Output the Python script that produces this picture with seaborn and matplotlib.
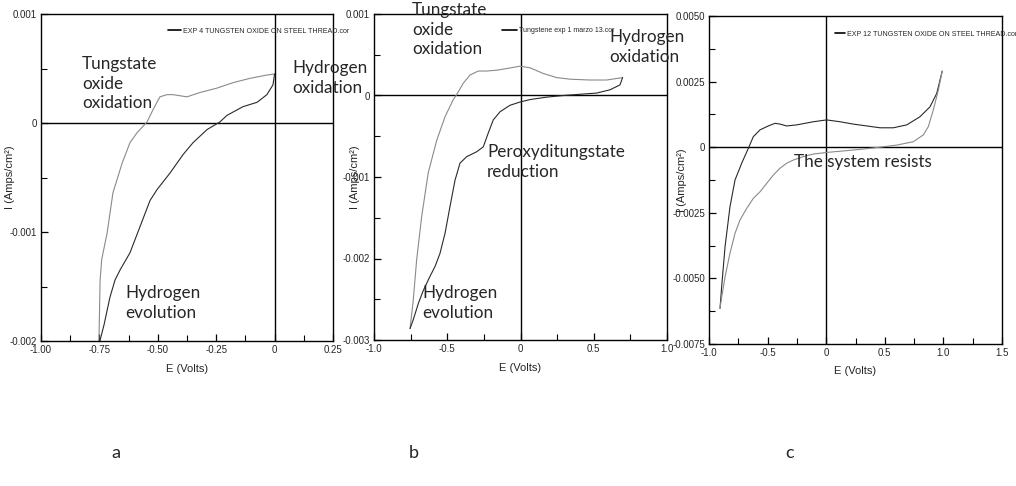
import matplotlib
matplotlib.use("Agg")
import matplotlib.pyplot as plt
from matplotlib.lines import Line2D
from matplotlib.ticker import FixedLocator
import seaborn as sns
import pandas as pd

# ---------------- data ----------------
# Panel a
A_up_E = [-0.752, -0.747, -0.740, -0.717, -0.692, -0.653, -0.619, -0.589, -0.546, -0.521, -0.491,
          -0.461, -0.435, -0.375, -0.319, -0.247, -0.178, -0.105, -0.033, 0.0]
A_up_I = [-0.00200, -0.00144, -0.00125, -0.00101, -0.00064, -0.00037, -0.00018, -0.00009, 0.00001,
          0.00012, 0.00024, 0.00026, 0.00026, 0.00024, 0.00028, 0.00032, 0.00037, 0.00041, 0.00044, 0.00045]
A_dn_E = [0.0, -0.007, -0.033, -0.075, -0.135, -0.204, -0.234, -0.289, -0.349, -0.392, -0.448,
          -0.503, -0.533, -0.576, -0.619, -0.662, -0.683, -0.705, -0.730, -0.748]
A_dn_I = [0.00045, 0.00035, 0.00026, 0.00019, 0.00015, 0.00007, 0.00001, -0.00006, -0.00018, -0.00029,
          -0.00046, -0.00061, -0.00071, -0.00095, -0.00119, -0.00135, -0.00144, -0.00160, -0.00185, -0.00200]

# Panel b
B_up_E = [-0.754, -0.732, -0.709, -0.675, -0.630, -0.572, -0.515, -0.459, -0.436, -0.391, -0.345,
          -0.289, -0.232, -0.164, -0.096, -0.003, 0.065, 0.156, 0.246, 0.338, 0.474, 0.588, 0.697]
B_up_I = [-0.00286, -0.00251, -0.00202, -0.00149, -0.00095, -0.00055, -0.00026, -0.00005, 0.00001,
          0.00015, 0.00025, 0.00030, 0.00030, 0.00031, 0.00033, 0.00036, 0.00034, 0.00027, 0.00022,
          0.00020, 0.00019, 0.00019, 0.00022]
B_dn_E = [0.697, 0.679, 0.611, 0.520, 0.406, 0.292, 0.179, 0.065, -0.003, -0.072, -0.140, -0.186,
          -0.220, -0.254, -0.299, -0.367, -0.413, -0.447, -0.481, -0.515, -0.550, -0.584, -0.618,
          -0.663, -0.697, -0.732, -0.754]
B_dn_I = [0.00022, 0.00013, 0.00007, 0.00003, 0.000015, 0.0, -0.00002, -0.00005, -0.00008, -0.00012,
          -0.00020, -0.00030, -0.00046, -0.00063, -0.00069, -0.00075, -0.00083, -0.00104, -0.00136,
          -0.00169, -0.00194, -0.00210, -0.00222, -0.00239, -0.00255, -0.00275, -0.00286]

# Panel c
C_up_E = [-0.906, -0.892, -0.863, -0.821, -0.778, -0.721, -0.664, -0.622, -0.565, -0.494, -0.437,
          -0.394, -0.337, -0.252, -0.110, 0.004, 0.118, 0.231, 0.346, 0.459, 0.573, 0.687, 0.800,
          0.886, 0.943, 0.990]
C_up_I = [-0.00614, -0.00532, -0.00379, -0.00227, -0.00125, -0.00061, -0.00004, 0.00040, 0.00066,
          0.00081, 0.00091, 0.00088, 0.00081, 0.00085, 0.00097, 0.00104, 0.00097, 0.00088, 0.00081,
          0.00074, 0.00074, 0.00085, 0.00116, 0.00154, 0.00205, 0.00290]
C_dn_E = [0.990, 0.957, 0.914, 0.871, 0.829, 0.744, 0.602, 0.459, 0.317, 0.175, 0.004, -0.110,
          -0.196, -0.281, -0.337, -0.394, -0.451, -0.508, -0.565, -0.622, -0.678, -0.735, -0.778,
          -0.821, -0.863, -0.900, -0.906]
C_dn_I = [0.00290, 0.00218, 0.00142, 0.00078, 0.00047, 0.00021, 0.00008, 0.0, -0.00007, -0.00013,
          -0.00020, -0.00026, -0.00036, -0.00049, -0.00061, -0.00080, -0.00106, -0.00138, -0.00170,
          -0.00195, -0.00233, -0.00277, -0.00328, -0.00404, -0.00494, -0.00595, -0.00614]

A_xticks = [-1.00, -0.75, -0.50, -0.25, 0.0, 0.25]
A_xlabels = ["-1.00", "-0.75", "-0.50", "-0.25", "0", "0.25"]
A_yticks = [-0.002, -0.001, 0.0, 0.001]
A_ylabels = ["-0.002", "-0.001", "0", "0.001"]
B_xticks = [-1.0, -0.5, 0.0, 0.5, 1.0]
B_xlabels = ["-1.0", "-0.5", "0", "0.5", "1.0"]
B_yticks = [-0.003, -0.002, -0.001, 0.0, 0.001]
B_ylabels = ["-0.003", "-0.002", "-0.001", "0", "0.001"]
C_xticks = [-1.0, -0.5, 0.0, 0.5, 1.0, 1.5]
C_xlabels = ["-1.0", "-0.5", "0", "0.5", "1.0", "1.5"]
C_yticks = [-0.0075, -0.0050, -0.0025, 0.0, 0.0025, 0.0050]
C_ylabels = ["-0.0075", "-0.0050", "-0.0025", "0", "0.0025", "0.0050"]

legend_texts = ["EXP 4 TUNGSTEN OXIDE ON STEEL THREAD.cor",
                "Tungstene exp 1 marzo 13.cor",
                "EXP 12 TUNGSTEN OXIDE ON STEEL THREAD.cor"]
panel_letters = ["a", "b", "c"]

# ---------------- style ----------------
sns.set_style("white")
TICKFONT = ["Liberation Sans Narrow", "Liberation Sans", "DejaVu Sans"]
ANNFONT = ["Lato", "DejaVu Sans"]
plt.rcParams["font.family"] = TICKFONT

fig = plt.figure(figsize=(10.16, 4.86), dpi=100)
W, H = 1016, 486


def axes_px(l, t, r, b):
    return fig.add_axes([l / W, 1 - b / H, (r - l) / W, (b - t) / H])


ax_a = axes_px(41, 14, 333, 341)
ax_b = axes_px(374, 14, 667, 340)
ax_c = axes_px(709, 16, 1002, 344)

panels = [
    (ax_a, A_up_E, A_up_I, A_dn_E, A_dn_I, (-1.0, 0.25), (-0.002, 0.001), A_xticks, A_xlabels,
     A_yticks, A_ylabels, 0.125, 0.0005, -0.089, "#8a8a8a", "#2a2a2a"),
    (ax_b, B_up_E, B_up_I, B_dn_E, B_dn_I, (-1.0, 1.0), (-0.003, 0.001), B_xticks, B_xlabels,
     B_yticks, B_ylabels, 0.25, 0.0005, -0.048, "#8a8a8a", "#2a2a2a"),
    (ax_c, C_up_E, C_up_I, C_dn_E, C_dn_I, (-1.0, 1.5), (-0.0075, 0.005), C_xticks, C_xlabels,
     C_yticks, C_ylabels, 0.25, 0.00125, -0.075, "#2a2a2a", "#8a8a8a"),
]

for (ax, upE, upI, dnE, dnI, xl, yl, xt, xtl, yt, ytl, xminor, yminor, ylabx, cup, cdn) in panels:
    up = pd.DataFrame({"E": upE, "I": upI})
    dn = pd.DataFrame({"E": dnE, "I": dnI})
    sns.lineplot(data=up, x="E", y="I", sort=False, estimator=None, ax=ax, color=cup, lw=0.8)
    sns.lineplot(data=dn, x="E", y="I", sort=False, estimator=None, ax=ax, color=cdn, lw=0.8)
    ax.axhline(0, color="black", lw=1.0, zorder=1)
    ax.axvline(0, color="black", lw=1.0, zorder=1)
    ax.set_xlim(*xl)
    ax.set_ylim(*yl)
    ax.set_xticks(xt)
    ax.set_xticklabels(xtl)
    ax.set_yticks(yt)
    ax.set_yticklabels(ytl)
    minx = []
    v = xl[0]
    while v <= xl[1] + 1e-9:
        minx.append(v)
        v += xminor
    miny = []
    v = yl[0]
    while v <= yl[1] + 1e-12:
        miny.append(v)
        v += yminor
    ax.xaxis.set_minor_locator(FixedLocator(minx))
    ax.yaxis.set_minor_locator(FixedLocator(miny))
    ax.tick_params(axis="both", which="major", direction="in", length=5, width=0.9,
                   labelsize=7, pad=3, color="black", bottom=True, left=True)
    ax.tick_params(axis="both", which="minor", direction="in", length=4, width=0.8,
                   color="black", bottom=True, left=True)
    for s in ax.spines.values():
        s.set_visible(True)
        s.set_color("black")
        s.set_linewidth(1.0)
    ax.set_xlabel("E (Volts)", fontsize=8, labelpad=6)
    ax.set_ylabel("I (Amps/cm²)", fontsize=8)
    ax.yaxis.set_label_coords(ylabx, 0.5)
    ax.grid(False)

# legends
leg_specs = [(ax_a, legend_texts[0], (0.435, 0.948), 1.8, 5.1),
             (ax_b, legend_texts[1], (0.437, 0.948), 2.2, 5.0),
             (ax_c, legend_texts[2], (0.430, 0.945), 1.4, 5.1)]
for ax, txt, anchor, hl, fs in leg_specs:
    h = Line2D([], [], color="black", lw=1.2)
    ax.legend(handles=[h], labels=[txt], loc="center left", bbox_to_anchor=anchor,
              frameon=False, borderpad=0, borderaxespad=0, handlelength=hl,
              handletextpad=0.3, prop={"family": TICKFONT, "size": fs})

# annotations (pixel positions from the reference)
ann_fs = 12.3
def ann(ax, x_px_l, y_px_top, text, ax_px):
    l, t, r, b = ax_px
    ax.text((x_px_l - l) / (r - l), (b - y_px_top) / (b - t), text, transform=ax.transAxes,
            ha="left", va="top", fontsize=ann_fs, family=ANNFONT, linespacing=1.27,
            clip_on=False)

pa = (41, 14, 333, 341)
pb = (374, 14, 667, 340)
pc = (709, 16, 1002, 344)
ann(ax_a, 82, 56, "Tungstate\noxide\noxidation", pa)
ann(ax_a, 292, 60, "Hydrogen\noxidation", pa)
ann(ax_a, 125, 285, "Hydrogen\nevolution", pa)
ann(ax_b, 412, 2, "Tungstate\noxide\noxidation", pb)
ann(ax_b, 609, 29, "Hydrogen\noxidation", pb)
ann(ax_b, 487, 144, "Peroxyditungstate\nreduction", pb)
ann(ax_b, 422, 285, "Hydrogen\nevolution", pb)
ann(ax_c, 794, 154, "The system resists", pc)

for letter, xp in zip(panel_letters, [116, 414, 790]):
    fig.text(xp / W, 1 - 453 / H, letter, ha="center", va="center", fontsize=13, family=ANNFONT)

fig.savefig("out.png", dpi=100)
